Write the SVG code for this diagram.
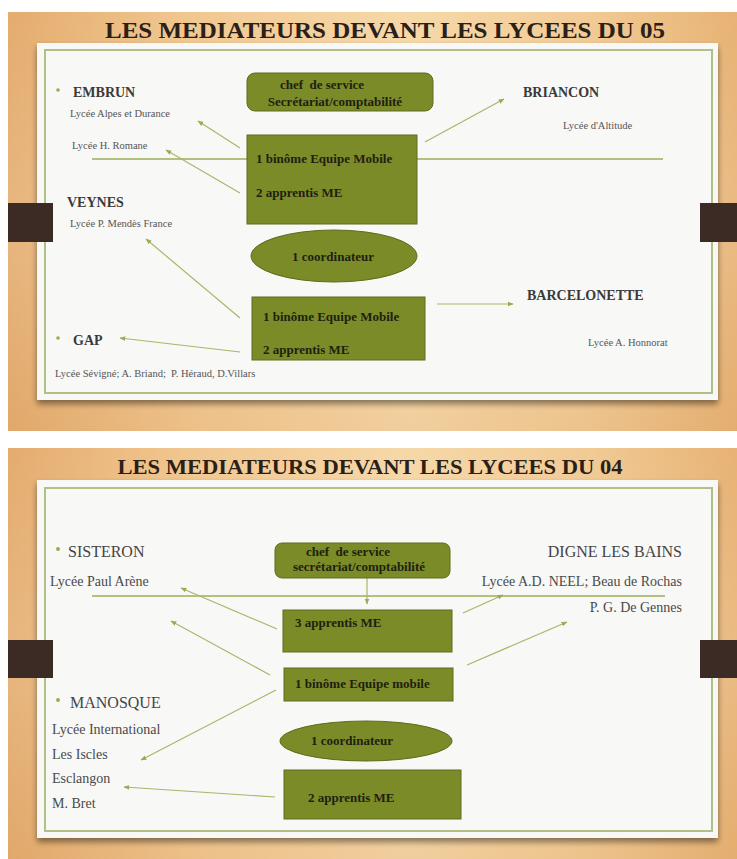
<svg xmlns="http://www.w3.org/2000/svg" width="737" height="859" viewBox="0 0 737 859">
<defs>
  <linearGradient id="wood" x1="0" y1="0" x2="1" y2="0">
    <stop offset="0" stop-color="#e4ac6e"/>
    <stop offset="0.25" stop-color="#f1c790"/>
    <stop offset="0.55" stop-color="#f6d8a8"/>
    <stop offset="0.8" stop-color="#f1ca94"/>
    <stop offset="1" stop-color="#e7b274"/>
  </linearGradient>
  <linearGradient id="woodv" x1="0" y1="0" x2="0" y2="1">
    <stop offset="0" stop-color="#ffffff" stop-opacity="0"/>
    <stop offset="0.5" stop-color="#ffffff" stop-opacity="0.12"/>
    <stop offset="1" stop-color="#c98a4a" stop-opacity="0.12"/>
  </linearGradient>
  <filter id="shadow" x="-5%" y="-5%" width="110%" height="115%">
    <feGaussianBlur in="SourceAlpha" stdDeviation="3"/>
    <feOffset dx="0" dy="4" result="b"/>
    <feComponentTransfer><feFuncA type="linear" slope="0.45"/></feComponentTransfer>
    <feMerge><feMergeNode/><feMergeNode in="SourceGraphic"/></feMerge>
  </filter>
  <marker id="ah" viewBox="0 0 10 10" refX="9" refY="5" markerWidth="5" markerHeight="5" orient="auto">
    <path d="M0,1 L10,5 L0,9 z" fill="#9aab55"/>
  </marker>
  <style>
    text{font-family:'Liberation Serif','DejaVu Serif',serif;}
    .title{fill:#2a2018;font-weight:bold;}
    .card{fill:#f8f8f6;}
    .frame{fill:none;stroke:#b2bf86;stroke-width:2;}
    .tab{fill:#3b2b24;}
    .box{fill:#7a8b28;stroke:#5e6c1c;stroke-width:1;}
    .bt{font-weight:bold;font-size:13px;fill:#1f1f10;}
    .city{font-weight:bold;font-size:14px;fill:#3a3a3a;}
    .sm{font-size:10.5px;fill:#555;}
    .city2{font-size:16px;fill:#444;}
    .md{font-size:14px;fill:#4a4a4a;}
    .bul{fill:#9aab55;}
    .hl{stroke:#b3c080;stroke-width:2;fill:none;}
    .cn{stroke:#a8b76a;stroke-width:1.2;fill:none;marker-end:url(#ah);}
  </style>
</defs>

<rect x="0" y="0" width="737" height="859" fill="#ffffff"/>

<!-- ===== Slide 1 ===== -->
<g id="slide1-bg">
  <rect x="8" y="12" width="729" height="419" fill="url(#wood)"/>
  <rect x="8" y="12" width="729" height="419" fill="url(#woodv)"/>
  <text class="title" x="385" y="38" font-size="24" text-anchor="middle" textLength="560" lengthAdjust="spacingAndGlyphs">LES MEDIATEURS DEVANT LES LYCEES DU 05</text>
  <rect class="card" x="37" y="43" width="681" height="357" filter="url(#shadow)"/>
  <rect class="frame" x="45" y="50" width="667" height="343"/>
  <rect class="tab" x="8" y="203" width="45" height="39"/>
  <rect class="tab" x="700" y="203" width="37" height="39"/>
</g>

<g id="s1-lines">
  <line class="hl" x1="92" y1="159" x2="663" y2="159"/>
</g>

<g id="s1-connectors">
  <line class="cn" x1="240" y1="148" x2="198" y2="121"/>
  <line class="cn" x1="240" y1="193" x2="166" y2="150"/>
  <line class="cn" x1="425" y1="142" x2="504" y2="99"/>
  <line class="cn" x1="240" y1="318" x2="146" y2="239"/>
  <line class="cn" x1="240" y1="352" x2="120" y2="338"/>
  <line class="cn" x1="437" y1="304" x2="513" y2="304"/>
</g>

<g id="s1-chef">
  <rect class="box" x="247" y="73" width="186" height="38" rx="8"/>
  <text class="bt" x="322" y="89" text-anchor="middle" xml:space="preserve">chef  de service</text>
  <text class="bt" x="335" y="106" text-anchor="middle">Secrétariat/comptabilité</text>
</g>
<g id="s1-equipe1">
  <rect class="box" x="247" y="135" width="170" height="89"/>
  <text class="bt" x="256" y="163">1 binôme Equipe Mobile</text>
  <text class="bt" x="256" y="197">2 apprentis ME</text>
</g>
<g id="s1-coord">
  <ellipse class="box" cx="334" cy="256" rx="83" ry="26"/>
  <text class="bt" x="333" y="261" text-anchor="middle">1 coordinateur</text>
</g>
<g id="s1-equipe2">
  <rect class="box" x="252" y="297" width="173" height="63"/>
  <text class="bt" x="263" y="321">1 binôme Equipe Mobile</text>
  <text class="bt" x="263" y="354">2 apprentis ME</text>
</g>

<g id="s1-embrun">
  <circle class="bul" cx="58" cy="90" r="1.8"/>
  <text class="city" x="73" y="97">EMBRUN</text>
  <text class="sm" x="70" y="117">Lycée Alpes et Durance</text>
  <text class="sm" x="72" y="149">Lycée H. Romane</text>
</g>
<g id="s1-veynes">
  <text class="city" x="67" y="207">VEYNES</text>
  <text class="sm" x="70" y="227">Lycée P. Mendès France</text>
</g>
<g id="s1-gap">
  <circle class="bul" cx="58" cy="338" r="1.8"/>
  <text class="city" x="73" y="345">GAP</text>
  <text class="sm" x="55" y="377" xml:space="preserve">Lycée Sévigné; A. Briand;  P. Héraud, D.Villars</text>
</g>
<g id="s1-briancon">
  <text class="city" x="523" y="97">BRIANCON</text>
  <text class="sm" x="563" y="129">Lycée d'Altitude</text>
</g>
<g id="s1-barcelonette">
  <text class="city" x="527" y="300">BARCELONETTE</text>
  <text class="sm" x="588" y="346">Lycée A. Honnorat</text>
</g>

<!-- ===== Slide 2 ===== -->
<g id="slide2-bg">
  <rect x="8" y="448" width="729" height="411" fill="url(#wood)"/>
  <rect x="8" y="448" width="729" height="411" fill="url(#woodv)"/>
  <text class="title" x="370" y="474" font-size="21" text-anchor="middle" textLength="505" lengthAdjust="spacingAndGlyphs">LES MEDIATEURS DEVANT LES LYCEES DU 04</text>
  <rect class="card" x="37" y="480" width="681" height="358" filter="url(#shadow)"/>
  <rect class="frame" x="45" y="488" width="667" height="343"/>
  <rect class="tab" x="8" y="640" width="45" height="38"/>
  <rect class="tab" x="700" y="640" width="37" height="38"/>
</g>

<g id="s2-lines">
  <line class="hl" x1="92" y1="596" x2="665" y2="596"/>
</g>

<g id="s2-connectors">
  <line class="cn" x1="367" y1="578" x2="367" y2="604"/>
  <line class="cn" x1="277" y1="629" x2="181" y2="588"/>
  <line class="cn" x1="270" y1="675" x2="171" y2="621"/>
  <line class="cn" x1="463" y1="613" x2="503" y2="595"/>
  <line class="cn" x1="467" y1="665" x2="567" y2="622"/>
  <line class="cn" x1="276" y1="690" x2="141" y2="760"/>
  <line class="cn" x1="275" y1="797" x2="124" y2="787"/>
</g>

<g id="s2-chef">
  <rect class="box" x="275" y="543" width="175" height="35" rx="7"/>
  <text class="bt" x="348" y="556" text-anchor="middle" xml:space="preserve">chef  de service</text>
  <text class="bt" x="359" y="571" text-anchor="middle">secrétariat/comptabilité</text>
</g>
<g id="s2-apprentis3">
  <rect class="box" x="283" y="610" width="169" height="42"/>
  <text class="bt" x="295" y="627">3 apprentis ME</text>
</g>
<g id="s2-equipe">
  <rect class="box" x="284" y="668" width="169" height="33"/>
  <text class="bt" x="295" y="688">1 binôme Equipe mobile</text>
</g>
<g id="s2-coord">
  <ellipse class="box" cx="366" cy="741" rx="86" ry="20"/>
  <text class="bt" x="352" y="745" text-anchor="middle">1 coordinateur</text>
</g>
<g id="s2-apprentis2">
  <rect class="box" x="284" y="770" width="177" height="49"/>
  <text class="bt" x="308" y="802">2 apprentis ME</text>
</g>

<g id="s2-sisteron">
  <circle class="bul" cx="58" cy="549" r="2"/>
  <text class="city2" x="68" y="557">SISTERON</text>
  <text class="md" x="50" y="586">Lycée Paul Arène</text>
</g>
<g id="s2-digne">
  <text class="city2" x="682" y="557" text-anchor="end">DIGNE LES BAINS</text>
  <text class="md" x="682" y="586" text-anchor="end">Lycée A.D. NEEL; Beau de Rochas</text>
  <text class="md" x="682" y="612" text-anchor="end">P. G. De Gennes</text>
</g>
<g id="s2-manosque">
  <circle class="bul" cx="58" cy="700" r="2"/>
  <text class="city2" x="70" y="708">MANOSQUE</text>
  <text class="md" x="52" y="734">Lycée International</text>
  <text class="md" x="52" y="759">Les Iscles</text>
  <text class="md" x="52" y="783">Esclangon</text>
  <text class="md" x="52" y="808">M. Bret</text>
</g>
</svg>
